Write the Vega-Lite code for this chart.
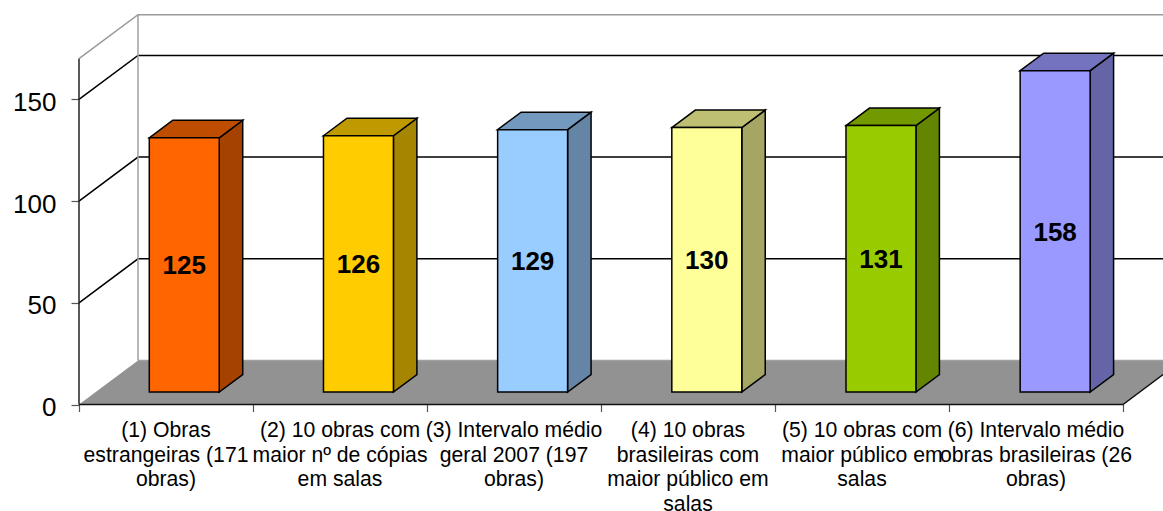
{"$schema":"https://vega.github.io/schema/vega-lite/v6.json","width":1163,"height":511,"padding":0,"autosize":{"type":"none"},"background":"white","view":{"stroke":null},
"datasets":{
"bars":[
{"pos":0,"value":125,"label":"(1) Obras\nestrangeiras (171\nobras)"},
{"pos":1,"value":126,"label":"(2) 10 obras com\nmaior nº de cópias\nem salas"},
{"pos":2,"value":129,"label":"(3) Intervalo médio\ngeral 2007 (197\nobras)"},
{"pos":3,"value":130,"label":"(4) 10 obras\nbrasileiras com\nmaior público em\nsalas"},
{"pos":4,"value":131,"label":"(5) 10 obras com\nmaior público em\nsalas"},
{"pos":5,"value":158,"label":"(6) Intervalo médio\nobras brasileiras (26\nobras)"}],
"levels":[{"level":50},{"level":100},{"level":150},{"level":170}],
"edges":[{"edge":"left"},{"edge":"back"},{"edge":"floorBack"},{"edge":"floorFront"}],
"floor":[{"plane":"floor"}]},
"encoding":{
"x":{"field":"X","type":"quantitative","scale":{"domain":[-0.45402,6.22989],"nice":false,"zero":false},"axis":{"orient":"bottom","offset":-106.5,"values":[0,1,2,3,4,5,6],"labels":false,"grid":false,"domain":false,"title":null,"ticks":true,"tickSize":7,"tickColor":"#555555","tickWidth":1.2}},
"y":{"field":"Y","type":"quantitative","scale":{"domain":[-52.36,198.87],"nice":false,"zero":false},"axis":{"orient":"left","offset":-79,"values":[0,50,100,150],"grid":false,"domain":false,"title":null,"ticks":true,"tickSize":8,"tickColor":"#555555","tickWidth":1.2,"labelPadding":15,"labelOffset":3,"labelFont":"Liberation Sans","labelFontSize":26,"labelColor":"#000000"}}},
"layer":[
{"data":{"name":"floor"},
"transform":[{"calculate":"[0,1,2,3]","as":"pt"},{"flatten":["pt"]},
{"calculate":"datum.pt<2?datum.pt*0.339:6+(datum.pt-2)*0.339","as":"X"},
{"calculate":"datum.pt==0?0:21.63","as":"Y"},
{"calculate":"datum.pt==3?21.63:0","as":"Y2"}],
"mark":{"type":"area","orient":"vertical","color":"#929292","clip":true},
"encoding":{"y2":{"field":"Y2"}}},
{"data":{"name":"levels"},
"transform":[{"calculate":"[0,1,2]","as":"pt"},{"flatten":["pt"]},
{"calculate":"datum.pt<2?datum.pt*0.339:6.6","as":"X"},
{"calculate":"datum.level+(datum.pt==0?0:21.63)","as":"Y"}],
"mark":{"type":"line","strokeWidth":1.5,"clip":true},
"encoding":{"order":{"field":"pt"},"color":{"field":"level","type":"nominal","legend":null,"scale":{"domain":[50,100,150,170,"left","back","floorBack","floorFront"],"range":["#000000","#000000","#000000","#999999","#222222","#a0a0a0","#a0a0a0","#111111"]}}}},
{"data":{"name":"edges"},
"transform":[{"calculate":"[0,1,2]","as":"pt"},{"flatten":["pt"]},
{"filter":"datum.edge=='floorFront'||datum.pt<2"},
{"calculate":"datum.edge=='left'?0:datum.edge=='back'?0.339:datum.edge=='floorBack'?datum.pt*6.6+0.339:datum.pt==0?0:datum.pt==1?6:6.339","as":"X"},
{"calculate":"datum.edge=='left'?datum.pt*170:datum.edge=='back'?21.63+datum.pt*170:datum.edge=='floorBack'?21.63:datum.pt==2?21.63:0","as":"Y"}],
"mark":{"type":"line","strokeWidth":1.5,"clip":true},
"encoding":{"order":{"field":"pt"},"color":{"field":"edge","type":"nominal","legend":null,"scale":{"domain":[50,100,150,170,"left","back","floorBack","floorFront"],"range":["#000000","#000000","#000000","#999999","#222222","#a0a0a0","#a0a0a0","#111111"]}}}},
{"data":{"name":"bars"},
"transform":[{"calculate":"[0,1]","as":"pt"},{"flatten":["pt"]},
{"calculate":"datum.pos*1.001+0.706+0.339*(datum.pt==0?0.295:0.693)","as":"X"},
{"calculate":"(datum.pt==0?0.295:0.693)*21.63+datum.value-0.25","as":"Y"},
{"calculate":"(datum.pt==0?0.295:0.693)*21.63-0.25","as":"Y2"},
{"calculate":"'side'+datum.pos","as":"key"}],
"mark":{"type":"area","orient":"vertical","stroke":"#000000","strokeWidth":1.5},
"encoding":{"y2":{"field":"Y2"},"fill":{"field":"key","type":"nominal","legend":null,"scale":{"domain":["side0","side1","side2","side3","side4","side5","top0","top1","top2","top3","top4","top5","front0","front1","front2","front3","front4","front5"],"range":["#A64200","#A68500","#6485A6","#A6A664","#638500","#6464A6","#BF4D00","#BF9900","#7399BF","#BFBF73","#739900","#7373BF","#FF6600","#FFCC00","#99CCFF","#FFFF99","#99CC00","#9999FF"]}}}},
{"data":{"name":"bars"},
"transform":[{"calculate":"[0,1,2,3]","as":"pt"},{"flatten":["pt"]},
{"calculate":"datum.pos*1.001+(datum.pt<2?0.304:0.706)+0.339*(datum.pt==0||datum.pt==2?0.295:0.693)","as":"X"},
{"calculate":"datum.value-0.25+21.63*(datum.pt==0?0.295:0.693)","as":"Y"},
{"calculate":"datum.value-0.25+21.63*(datum.pt==3?0.693:0.295)","as":"Y2"},
{"calculate":"'top'+datum.pos","as":"key"}],
"mark":{"type":"area","orient":"vertical","stroke":"#000000","strokeWidth":1.5},
"encoding":{"y2":{"field":"Y2"},"fill":{"field":"key","type":"nominal","legend":null,"scale":{"domain":["side0","side1","side2","side3","side4","side5","top0","top1","top2","top3","top4","top5","front0","front1","front2","front3","front4","front5"],"range":["#A64200","#A68500","#6485A6","#A6A664","#638500","#6464A6","#BF4D00","#BF9900","#7399BF","#BFBF73","#739900","#7373BF","#FF6600","#FFCC00","#99CCFF","#FFFF99","#99CC00","#9999FF"]}}}},
{"data":{"name":"bars"},
"transform":[
{"calculate":"datum.pos*1.001+0.304+0.339*0.295","as":"X"},
{"calculate":"datum.pos*1.001+0.706+0.339*0.295","as":"X2"},
{"calculate":"datum.value-0.25+0.295*21.63","as":"Y"},
{"calculate":"0.295*21.63-0.25","as":"Y2"},
{"calculate":"'front'+datum.pos","as":"key"}],
"mark":{"type":"rect","stroke":"#000000","strokeWidth":1.5},
"encoding":{"x2":{"field":"X2"},"y2":{"field":"Y2"},"fill":{"field":"key","type":"nominal","legend":null,"scale":{"domain":["side0","side1","side2","side3","side4","side5","top0","top1","top2","top3","top4","top5","front0","front1","front2","front3","front4","front5"],"range":["#A64200","#A68500","#6485A6","#A6A664","#638500","#6464A6","#BF4D00","#BF9900","#7399BF","#BFBF73","#739900","#7373BF","#FF6600","#FFCC00","#99CCFF","#FFFF99","#99CC00","#9999FF"]}}}},
{"data":{"name":"bars"},
"transform":[
{"calculate":"datum.pos*1.001+0.505+0.339*0.295","as":"X"},
{"calculate":"datum.value/2+0.295*21.63-1","as":"Y"}],
"mark":{"type":"text","font":"Liberation Sans","fontWeight":"bold","fontSize":26,"color":"#000000","align":"center","baseline":"middle"},
"encoding":{"text":{"field":"value","type":"quantitative"}}},
{"data":{"name":"bars"},
"transform":[
{"calculate":"datum.pos+0.5","as":"X"},
{"calculate":"-7.6","as":"Y"}],
"mark":{"type":"text","font":"Liberation Sans","fontSize":21.2,"lineHeight":24.7,"lineBreak":"\n","color":"#000000","align":"center","baseline":"top"},
"encoding":{"text":{"field":"label","type":"nominal"}}}
]}
